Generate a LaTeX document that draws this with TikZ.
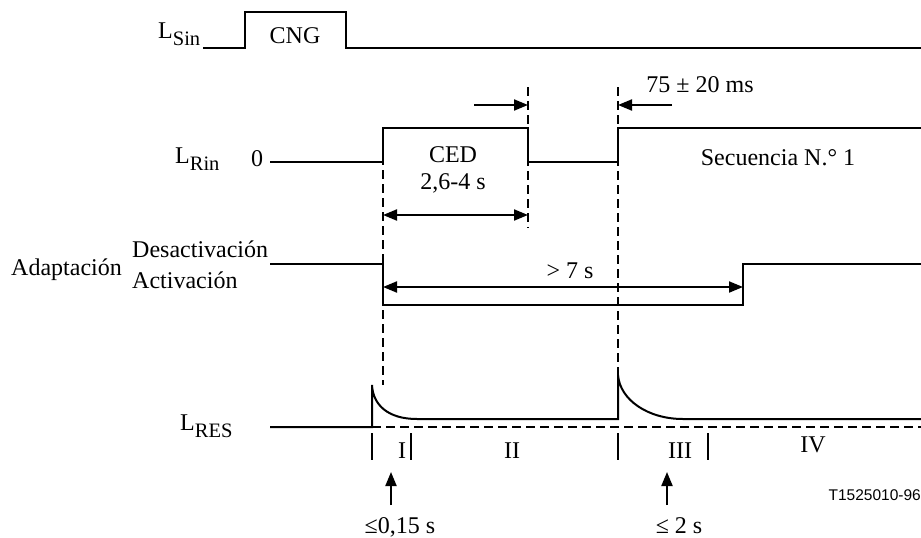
\documentclass[tikz,border=0pt]{standalone}
\usepackage{fontspec}
\setmainfont{Liberation Serif}
\newfontfamily\arialfont{Liberation Sans}
\usetikzlibrary{arrows.meta}
\newcommand{\Lsub}[1]{L\raisebox{-7pt}{\fontsize{20.5}{24}\selectfont #1}}
\begin{document}
\begin{tikzpicture}[x=1pt,y=-1pt,
  sig/.style={line width=2pt},
  dsh/.style={line width=1.8pt,dash pattern=on 9pt off 5pt},
  dimarrow/.style={line width=2pt,{Triangle[length=14pt,width=11pt]}-{Triangle[length=14pt,width=11pt]}},
  arr/.style={line width=2pt,-{Triangle[length=14pt,width=11pt]}},
  tick/.style={line width=1.8pt},
  lbl/.style={inner sep=0pt,font=\fontsize{24}{28}\selectfont},
]
\useasboundingbox (0,0) rectangle (921,538);

% ---- labels on the left
\node[lbl,anchor=base west] (lsin) at (158,38) {\Lsub{Sin}};
\node[lbl,anchor=base west] (lrin) at (175,163) {\Lsub{Rin}};
\node[lbl,anchor=base] (zero) at (257,166) {0};
\node[lbl,anchor=base west] (adap) at (11,275) {Adaptación};
\node[lbl,anchor=base west] (desac) at (132,257) {Desactivación};
\node[lbl,anchor=base west] (activ) at (132,288) {Activación};
\node[lbl,anchor=base west] (lres) at (180,430) {\Lsub{RES}};

% ---- L_Sin signal
\draw[sig] (203,48) -- (245,48) -- (245,12) -- (346,12) -- (346,48) -- (921,48);
\node[lbl,anchor=base] (cng) at (295,43) {CNG};

% ---- L_Rin signal
\draw[sig] (270,162) -- (383,162) -- (383,128) -- (528,128) -- (528,162) -- (618,162) -- (618,128) -- (921,128);
\node[lbl,anchor=base] (ced) at (453,162) {CED};
\node[lbl,anchor=base] (cedt) at (453,189) {2,6-4 s};
\node[lbl,anchor=base] (secu) at (778,165) {Secuencia N.° 1};

% ---- Adaptation signal
\draw[sig] (270,264) -- (383,264) -- (383,305) -- (743,305) -- (743,264) -- (921,264);

% ---- L_RES signal
\draw[sig] (270,427) -- (372,427) -- (372,385) .. controls (373,405) and (388,419) .. (417,419)
  -- (618,419) -- (618,375) .. controls (620,400) and (648,419) .. (683,419) -- (921,419);
\draw[dsh] (372,427) -- (921,427);

% ---- dashed verticals
\coordinate (d1t) at (383,128);
\coordinate (d1b) at (383,385);
\coordinate (d2t) at (528,87);
\coordinate (d2b) at (528,228);
\coordinate (d3t) at (618,87);
\coordinate (d3b) at (618,375);
\draw[dsh] (d1t) -- (d1b);
\draw[dsh] (d2t) -- (d2b);
\draw[dsh] (d3t) -- (d3b);

% ---- timing arrows
\coordinate (a1s) at (474,105);
\coordinate (a1e) at (528,105);
\draw[arr] (a1s) -- (a1e);
\coordinate (a2s) at (672,105);
\coordinate (a2e) at (618,105);
\draw[arr] (a2s) -- (a2e);
\node[lbl,anchor=base] (t75) at (700,92) {75 ± 20 ms};

\coordinate (c1) at (383,215);
\coordinate (c2) at (528,215);
\draw[dimarrow] (c1) -- (c2);

\coordinate (s1) at (383,287);
\coordinate (s2) at (743,287);
\draw[dimarrow] (s1) -- (s2);
\node[lbl,anchor=base] (gt7) at (570,278) {> 7 s};

% ---- interval ticks
\foreach \x/\n in {372/ta,411/tb,618/tc,708/td}{
  \coordinate (\n1) at (\x,433);
  \coordinate (\n2) at (\x,460);
  \draw[tick] (\n1) -- (\n2);
}
\node[lbl,anchor=base] (pI) at (402,458) {I};
\node[lbl,anchor=base] (pII) at (512,458) {II};
\node[lbl,anchor=base] (pIII) at (680,458) {III};
\node[lbl,anchor=base] (pIV) at (813,452) {IV};

% ---- bottom arrows
\coordinate (u1b) at (391,505);
\coordinate (u1t) at (391,472);
\draw[arr] (u1b) -- (u1t);
\coordinate (u2b) at (667,505);
\coordinate (u2t) at (667,472);
\draw[arr] (u2b) -- (u2t);
\node[lbl,anchor=base] (le1) at (400,533) {≤0,15 s};
\node[lbl,anchor=base] (le2) at (679,533) {≤ 2 s};

\node[inner sep=0pt,anchor=base east,font=\arialfont\fontsize{15.5}{18}\selectfont] (ref) at (921,500) {T1525010-96};
\end{tikzpicture}
\end{document}
